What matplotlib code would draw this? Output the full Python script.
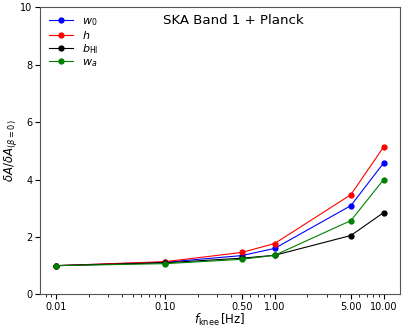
import numpy as np
import matplotlib.pyplot as plt

f_knee = [0.01, 0.1, 0.5, 1.0, 5.0, 10.0]
w0 = [1.0, 1.12, 1.35, 1.60, 3.09, 4.58]
h = [1.0, 1.14, 1.46, 1.77, 3.47, 5.14]
b_HI = [1.0, 1.10, 1.26, 1.36, 2.05, 2.85]
w_a = [1.0, 1.07, 1.22, 1.36, 2.57, 4.00]
tick_vals = [0.01, 0.1, 0.5, 1.0, 5.0, 10.0]
tick_labels = ['0.01', '0.10', '0.50', '1.00', '5.00', '10.00']

fig = plt.figure(figsize=(4.07, 3.3), dpi=100)
ax = fig.add_axes([0.098, 0.108, 0.885, 0.870])

ax.plot(f_knee, w0, 'o-', color='b', lw=0.8, ms=3.5, label='$w_0$')
ax.plot(f_knee, h, 'o-', color='r', lw=0.8, ms=3.5, label='$h$')
ax.plot(f_knee, b_HI, 'o-', color='k', lw=0.8, ms=3.5, label=r'$b_{\rm HI}$')
ax.plot(f_knee, w_a, 'o-', color='g', lw=0.8, ms=3.5, label='$w_a$')

ax.set_xscale('log')
ax.set_xticks(tick_vals)
ax.set_xticklabels(tick_labels)
ax.set_ylim(0, 10)
ax.tick_params(labelsize=7, pad=2)
ax.set_xlabel(r'$f_{\rm knee}\,$[Hz]', fontsize=8.5, labelpad=0)
ax.set_ylabel(r'$\delta A/\delta A_{(\beta=0)}$', fontsize=8.5, labelpad=1)
ax.text(0.537, 0.975, 'SKA Band 1 + Planck', transform=ax.transAxes,
        ha='center', va='top', fontsize=9.6)
ax.legend(loc='upper left', frameon=False, fontsize=8, handlelength=2.2,
          labelspacing=0.1, borderpad=0.3)
for s in ax.spines.values():
    s.set_color('#555555')

fig.savefig('out.png', dpi=100)
